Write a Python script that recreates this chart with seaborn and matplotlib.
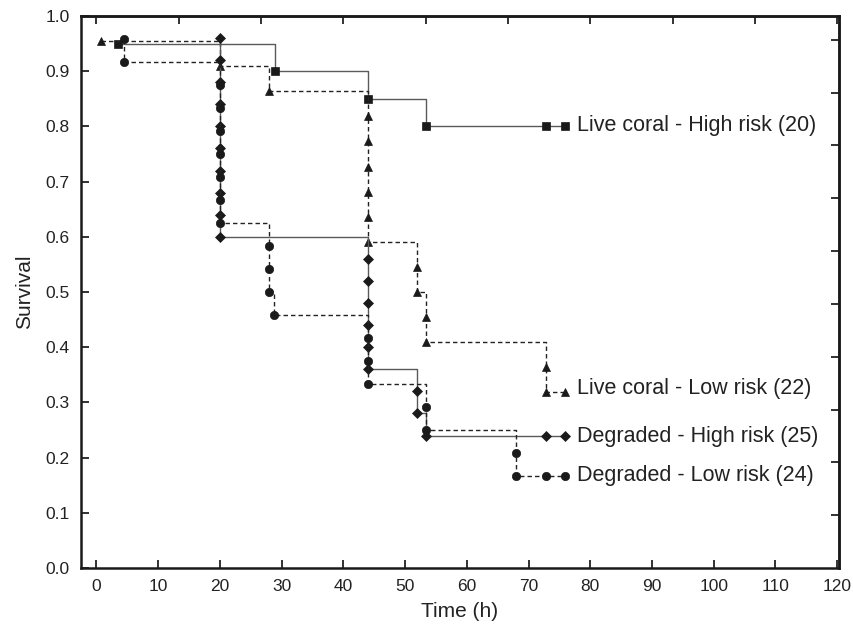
import matplotlib
matplotlib.use("Agg")
from matplotlib import pyplot as plt
import seaborn as sns
import numpy as np

# Kaplan-Meier style survival steps
lc_high_t = [3.5, 29, 44, 53.4, 72.9, 75.9]
lc_high_s = [0.95, 0.90, 0.85, 0.80, 0.80, 0.80]

lc_low_t = [0.8, 20, 28, 44, 44, 44, 44, 44, 44, 52, 52, 53.4, 53.4, 72.9, 72.9, 75.9]
lc_low_s = [0.955, 0.909, 0.864, 0.818, 0.773, 0.727, 0.682, 0.636, 0.591,
            0.545, 0.500, 0.455, 0.409, 0.364, 0.318, 0.318]

dg_high_t = [20, 20, 20, 20, 20, 20, 20, 20, 20, 20,
             44, 44, 44, 44, 44, 44, 52, 52, 53.4, 72.9, 75.9]
dg_high_s = [0.96, 0.92, 0.88, 0.84, 0.80, 0.76, 0.72, 0.68, 0.64, 0.60,
             0.56, 0.52, 0.48, 0.44, 0.40, 0.36, 0.32, 0.28, 0.24, 0.24, 0.24]

dg_low_t = [4.4, 4.4, 20, 20, 20, 20, 20, 20, 20, 28, 28, 28, 28.8,
            44, 44, 44, 53.4, 53.4, 68, 68, 72.9, 75.9]
dg_low_s = [0.958, 0.917, 0.875, 0.833, 0.792, 0.750, 0.708, 0.667, 0.625,
            0.583, 0.542, 0.500, 0.458, 0.417, 0.375, 0.333, 0.292, 0.250,
            0.208, 0.167, 0.167, 0.167]

labels = ["Live coral - High risk (20)", "Live coral - Low risk (22)",
          "Degraded - High risk (25)", "Degraded - Low risk (24)"]
label_y = [0.802, 0.326, 0.238, 0.167]

x_ticks = [0, 10, 20, 30, 40, 50, 60, 70, 80, 90, 100, 110, 120]
y_ticks = [0.0, 0.1, 0.2, 0.3, 0.4, 0.5, 0.6, 0.7, 0.8, 0.9, 1.0]
# the top and right frame ticks use their own spacing in the original
top_ticks = [0, 13.33, 26.67, 40, 53.33, 66.67, 80, 93.33, 106.67, 120]
right_ticks = [0.0957, 0.1914, 0.2871, 0.3828, 0.4785, 0.5742, 0.6699, 0.7656, 0.8613, 0.957]

sns.set_style("ticks")
plt.rcParams['font.family'] = ['Liberation Sans', 'DejaVu Sans']

fig = plt.figure(figsize=(8.54, 6.27), dpi=100)
ax = fig.add_axes([81 / 854, 1 - 568 / 627, (839 - 81) / 854, (568 - 16) / 627])

series = [
    (lc_high_t, lc_high_s, 's', '-', '#5a5a5a', 6),
    (lc_low_t, lc_low_s, '^', (0, (3.2, 2.2)), '#222222', 6.3),
    (dg_high_t, dg_high_s, 'D', '-', '#5a5a5a', 4.8),
    (dg_low_t, dg_low_s, 'o', (0, (3.2, 2.2)), '#222222', 6),
]
for t, s, m, ls, c, ms in series:
    sns.lineplot(x=t, y=s, ax=ax, estimator=None, sort=False,
                 drawstyle='steps-post', color=c, linestyle=ls, linewidth=1.0,
                 marker=m, markersize=ms, markerfacecolor='#1a1a1a',
                 markeredgecolor='#1a1a1a', markeredgewidth=0.5)

for lab, y in zip(labels, label_y):
    ax.text(77.8, y, lab, fontsize=15.5, va='center', ha='left', color='#222222')

ax.set_xlim(-2.5, 120.3)
ax.set_ylim(0, 1.0)
ax.set_xticks(x_ticks)
ax.set_yticks(y_ticks)
ax.set_yticklabels([f"{v:.1f}" for v in y_ticks])
ax.tick_params(direction='in', length=6, width=1.3, labelsize=12.5, colors='#222222', pad=8)
ax.set_xlabel("Time (h)", fontsize=15, color='#222222', labelpad=6)
ax.set_ylabel("Survival", fontsize=15, color='#222222', labelpad=8)

top = ax.secondary_xaxis('top')
top.set_xticks(top_ticks)
top.tick_params(direction='in', length=6, width=1.3, labeltop=False, colors='#222222')
right = ax.secondary_yaxis('right')
right.set_yticks(right_ticks)
right.tick_params(direction='in', length=6, width=1.3, labelright=False, colors='#222222')

for a in (ax, top, right):
    for sp in a.spines.values():
        sp.set_linewidth(1.8)
        sp.set_color('#1a1a1a')

fig.savefig("out.png", dpi=100)
